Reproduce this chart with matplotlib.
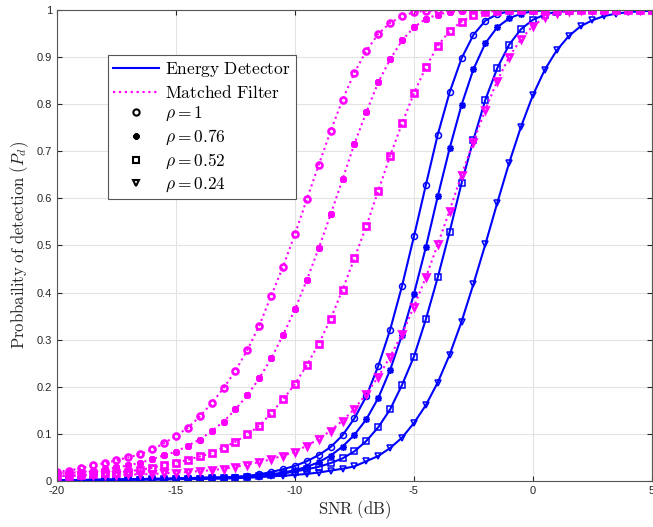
import numpy as np
import matplotlib
matplotlib.use("Agg")
import matplotlib.pyplot as plt
from matplotlib.lines import Line2D

plt.rcParams['mathtext.fontset'] = 'cm'
plt.rcParams['axes.unicode_minus'] = False
plt.rcParams['font.family'] = ['Liberation Sans', 'DejaVu Sans']

# SNR grid (dB), markers every 0.5 dB
snr = np.arange(-20, 5.25, 0.5)

rho_labels = [r'$\rho=1$', r'$\rho=0.76$', r'$\rho=0.52$', r'$\rho=0.24$']

# energy detector
ed_rho100 = [0.002, 0.002, 0.002, 0.003, 0.003, 0.003, 0.004, 0.004, 0.005, 0.005,
             0.006, 0.006, 0.007, 0.008, 0.008, 0.009, 0.011, 0.014, 0.019, 0.025,
             0.032, 0.042, 0.055, 0.072, 0.097, 0.133, 0.180, 0.244, 0.321, 0.414,
             0.519, 0.628, 0.735, 0.825, 0.897, 0.947, 0.977, 0.991, 0.997, 0.999,
             1.0, 1.0, 1.0, 1.0, 1.0, 1.0, 1.0, 1.0, 1.0, 1.0, 1.0]
ed_rho076 = [0.002, 0.002, 0.002, 0.002, 0.003, 0.003, 0.003, 0.004, 0.004, 0.004,
             0.005, 0.005, 0.006, 0.006, 0.007, 0.008, 0.009, 0.011, 0.014, 0.018,
             0.023, 0.030, 0.040, 0.054, 0.073, 0.098, 0.131, 0.176, 0.236, 0.310,
             0.397, 0.496, 0.604, 0.706, 0.798, 0.874, 0.929, 0.963, 0.982, 0.992,
             0.997, 0.999, 1.0, 1.0, 1.0, 1.0, 1.0, 1.0, 1.0, 1.0, 1.0]
ed_rho052 = [0.002, 0.002, 0.002, 0.002, 0.002, 0.003, 0.003, 0.003, 0.004, 0.004,
             0.004, 0.005, 0.005, 0.006, 0.006, 0.007, 0.008, 0.010, 0.013, 0.016,
             0.020, 0.025, 0.030, 0.038, 0.048, 0.063, 0.085, 0.114, 0.152, 0.204,
             0.264, 0.343, 0.432, 0.529, 0.632, 0.724, 0.809, 0.876, 0.926, 0.959,
             0.979, 0.990, 0.996, 0.998, 0.999, 1.0, 1.0, 1.0, 1.0, 1.0, 1.0]
ed_rho024 = [0.001, 0.002, 0.002, 0.002, 0.002, 0.002, 0.003, 0.003, 0.003, 0.003,
             0.004, 0.004, 0.004, 0.005, 0.005, 0.006, 0.007, 0.008, 0.010, 0.011,
             0.013, 0.015, 0.018, 0.022, 0.026, 0.031, 0.042, 0.053, 0.070, 0.092,
             0.123, 0.161, 0.209, 0.268, 0.338, 0.418, 0.502, 0.590, 0.675, 0.752,
             0.819, 0.873, 0.914, 0.944, 0.965, 0.978, 0.987, 0.992, 0.995, 0.997, 0.998]

# matched filter
mf_rho100 = [0.020, 0.022, 0.027, 0.033, 0.038, 0.044, 0.050, 0.057, 0.067, 0.080,
             0.096, 0.113, 0.137, 0.165, 0.197, 0.234, 0.278, 0.330, 0.393, 0.455,
             0.524, 0.598, 0.671, 0.743, 0.809, 0.867, 0.913, 0.949, 0.972, 0.987,
             0.995, 0.998, 0.999, 1.0, 1.0, 1.0, 1.0, 1.0, 1.0, 1.0,
             1.0, 1.0, 1.0, 1.0, 1.0, 1.0, 1.0, 1.0, 1.0, 1.0, 1.0]
mf_rho076 = [0.015, 0.017, 0.019, 0.022, 0.025, 0.029, 0.033, 0.039, 0.046, 0.055,
             0.062, 0.075, 0.088, 0.106, 0.126, 0.152, 0.182, 0.218, 0.260, 0.310,
             0.364, 0.427, 0.494, 0.566, 0.640, 0.716, 0.783, 0.846, 0.895, 0.935,
             0.963, 0.981, 0.990, 0.996, 0.998, 0.999, 1.0, 1.0, 1.0, 1.0,
             1.0, 1.0, 1.0, 1.0, 1.0, 1.0, 1.0, 1.0, 1.0, 1.0, 1.0]
mf_rho052 = [0.010, 0.011, 0.012, 0.014, 0.016, 0.018, 0.020, 0.024, 0.028, 0.034,
             0.039, 0.045, 0.052, 0.059, 0.071, 0.083, 0.099, 0.117, 0.144, 0.173,
             0.206, 0.246, 0.291, 0.344, 0.406, 0.473, 0.541, 0.616, 0.690, 0.759,
             0.823, 0.878, 0.924, 0.955, 0.975, 0.989, 0.995, 0.998, 0.999, 1.0,
             1.0, 1.0, 1.0, 1.0, 1.0, 1.0, 1.0, 1.0, 1.0, 1.0, 1.0]
mf_rho024 = [0.011, 0.011, 0.012, 0.012, 0.013, 0.013, 0.014, 0.014, 0.015, 0.016,
             0.018, 0.019, 0.021, 0.023, 0.026, 0.030, 0.035, 0.040, 0.046, 0.054,
             0.062, 0.075, 0.089, 0.107, 0.128, 0.153, 0.185, 0.221, 0.264, 0.312,
             0.370, 0.432, 0.502, 0.574, 0.650, 0.720, 0.788, 0.849, 0.900, 0.938,
             0.966, 0.984, 0.993, 0.997, 0.999, 1.0, 1.0, 1.0, 1.0, 1.0, 1.0]

ed_curves = [ed_rho100, ed_rho076, ed_rho052, ed_rho024]
mf_curves = [mf_rho100, mf_rho076, mf_rho052, mf_rho024]
markers = ['o', (8, 2, 0), 's', 'v']
msizes = [4.3, 5, 3.8, 4.8]

fig = plt.figure(figsize=(6.53, 5.27), dpi=100)
ax = fig.add_axes([0.0873, 0.0873, 0.911, 0.894])

for y, m, ms in zip(ed_curves, markers, msizes):
    ax.plot(snr, y, color='#0000ff', linestyle='-', linewidth=1.5,
            marker=m, markersize=ms, markerfacecolor='none',
            markeredgecolor='#0000ff', markeredgewidth=1.1)

for y, m, ms in zip(mf_curves, markers, msizes):
    ax.plot(snr, y, color='#ff00ff', linestyle=':', linewidth=1.5,
            marker=m, markersize=ms, markerfacecolor='none',
            markeredgecolor='#ff00ff', markeredgewidth=1.9)

ax.set_xlim(-20, 5)
ax.set_ylim(0, 1)
ax.set_xticks([-20, -15, -10, -5, 0, 5])
ax.set_yticks(np.arange(0, 1.01, 0.1))
ax.set_yticklabels(['0', '0.1', '0.2', '0.3', '0.4', '0.5', '0.6', '0.7', '0.8', '0.9', '1'])
ax.grid(True, color='#e3e3e3', linewidth=0.8)
ax.set_axisbelow(True)
ax.tick_params(direction='in', length=3.5, width=0.8, top=True, right=True,
               labelsize=8, colors='#262626')
for sp in ax.spines.values():
    sp.set_color('#555555')
    sp.set_linewidth(0.8)

ax.set_xlabel(r'$\mathrm{SNR\ (dB)}$', fontsize=12, color='#262626', labelpad=2)
ax.set_ylabel(r'$\mathrm{Probbaility\ of\ detection\ }(P_d)$', fontsize=12,
              color='#262626', labelpad=4)

handles = [Line2D([], [], color='#0000ff', linestyle='-', linewidth=1.5),
           Line2D([], [], color='#ff00ff', linestyle=':', linewidth=1.6)]
labels = [r'$\mathrm{Energy\ Detector}$', r'$\mathrm{Matched\ Filter}$']
for m, lab in zip(markers, rho_labels):
    handles.append(Line2D([], [], linestyle='none', marker=m, markersize=4.5,
                          markerfacecolor='none', markeredgecolor='black',
                          markeredgewidth=1.5))
    labels.append(lab)

leg = ax.legend(handles, labels, loc='upper left', bbox_to_anchor=(0.086, 0.904),
                fontsize=12.5, handlelength=2.6, handletextpad=0.4,
                labelspacing=0.25, borderpad=0.3, borderaxespad=0,
                fancybox=False, framealpha=1, edgecolor='#555555')
leg.get_frame().set_linewidth(0.8)

fig.savefig('out.png', dpi=100)
